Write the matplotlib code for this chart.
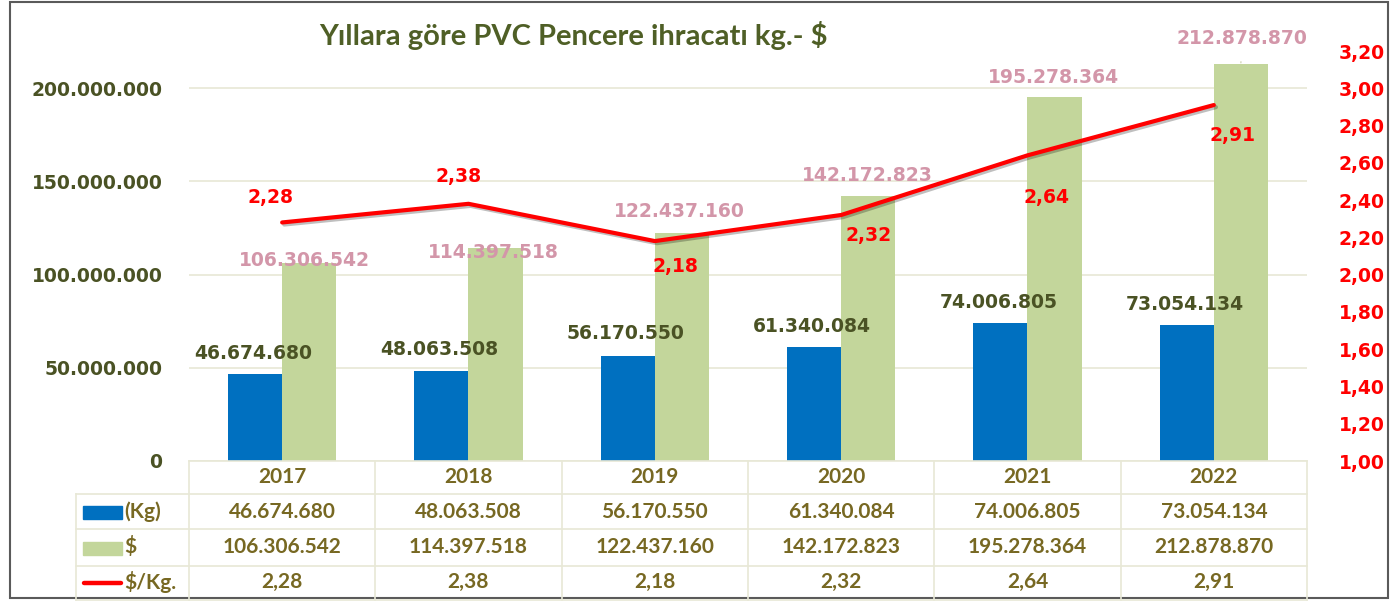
import matplotlib
matplotlib.use('Agg')
import matplotlib.pyplot as plt
import matplotlib.patheffects as pe
from matplotlib.transforms import blended_transform_factory
from matplotlib.patches import Rectangle
from matplotlib.lines import Line2D

# veriler
years = ['2017', '2018', '2019', '2020', '2021', '2022']
kg = [46674680, 48063508, 56170550, 61340084, 74006805, 73054134]
usd = [106306542, 114397518, 122437160, 142172823, 195278364, 212878870]
usd_per_kg = [2.28, 2.38, 2.18, 2.32, 2.64, 2.91]

left_ticks = [0, 50000000, 100000000, 150000000, 200000000]
right_ticks = [1.0, 1.2, 1.4, 1.6, 1.8, 2.0, 2.2, 2.4, 2.6, 2.8, 3.0, 3.2]

# renkler
BLUE = '#0070C0'
GREEN = '#C3D69B'
RED = '#FF0000'
PINK = '#D396A9'
OLIVE = '#4A5224'
TITLE_C = '#4F5F26'
TABLE_C = '#776822'
GRID_C = '#E8E8D6'
LBL = 13.5


def tr_int(v):
    return f'{v:,}'.replace(',', '.')


def tr_dec(v):
    return f'{v:.2f}'.replace('.', ',')


W, H = 1397, 602
fig = plt.figure(figsize=(W / 100, H / 100), dpi=100)


def fx(px):
    return px / W


def fy(py):
    return 1 - py / H


ax = fig.add_axes([fx(189), fy(461), fx(1307) - fx(189), fy(51) - fy(461)])
ax.set_xlim(-0.5, 5.5)
ax.set_ylim(0, 220000000)
for s in ax.spines.values():
    s.set_visible(False)
ax.set_xticks([])
ax.set_yticks(left_ticks)
ax.set_yticklabels([tr_int(t) for t in left_ticks])
ax.tick_params(axis='y', length=0, pad=19, labelsize=LBL, labelcolor=OLIVE)
for lb in ax.get_yticklabels():
    lb.set_fontweight('bold')
ax.yaxis.grid(True, color=GRID_C, lw=1.2)
ax.set_axisbelow(True)

x = list(range(len(years)))
bw = 0.29
xb = [i - bw / 2 for i in x]
xg = [i + bw / 2 for i in x]
bars_kg = ax.bar(xb, kg, width=bw, color=BLUE, zorder=2)
bars_usd = ax.bar(xg, usd, width=bw, color=GREEN, zorder=2)

# etiketler (piksel kaydirma)
kg_off = [(-2, 21), (-2, 22), (-2, 23), (-2, 20), (-2, 21), (-2, 20)]
usd_off = [(-5, 2), (-2, -5), (-2, 21), (-1, 21), (-1, 20), (1, 26)]
for i in x:
    ax.annotate(tr_int(kg[i]), (xb[i], kg[i]), xytext=kg_off[i],
                textcoords='offset pixels', ha='center', va='center',
                fontsize=LBL, fontweight='bold', color=OLIVE, zorder=5)
    ap = None
    if i == len(x) - 1:
        ap = dict(arrowstyle='-', color='#C9CDA8', lw=0.8, shrinkA=8, shrinkB=1)
    ax.annotate(tr_int(usd[i]), (xg[i], usd[i]), xytext=usd_off[i],
                textcoords='offset pixels', ha='center', va='center',
                fontsize=LBL, fontweight='bold', color=PINK, zorder=5,
                arrowprops=ap)

ax2 = ax.twinx()
ax2.set_ylim(1.0, 3.2)
for s in ax2.spines.values():
    s.set_visible(False)
ax2.set_yticks(right_ticks)
ax2.set_yticklabels([tr_dec(t) for t in right_ticks])
ax2.tick_params(axis='y', length=0, pad=23, labelsize=LBL, labelcolor=RED)
for lb in ax2.get_yticklabels():
    lb.set_fontweight('bold')

ax2.plot(x, usd_per_kg, color=RED, lw=3, solid_capstyle='round', zorder=4,
         path_effects=[pe.SimpleLineShadow(offset=(1.5, -1.5), alpha=0.25),
                       pe.Normal()])

red_off = [(-12, 25), (-10, 27), (21, -25), (27, -20), (19, -42), (19, -30)]
for i in x:
    ax2.annotate(tr_dec(usd_per_kg[i]), (x[i], usd_per_kg[i]), xytext=red_off[i],
                 textcoords='offset pixels', ha='center', va='center',
                 fontsize=LBL, fontweight='bold', color=RED, zorder=6)

# baslik
fig.text(fx(573), fy(35), 'Yıllara göre PVC Pencere ihracatı kg.- $',
         ha='center', va='center', fontsize=21, fontweight='bold',
         family='Lato', color=TITLE_C)

# veri tablosu
tb = blended_transform_factory(ax.transData, fig.transFigure)
row_y = [477, 512, 547, 582]
h_lines = [(461, 189), (494, 76), (529, 76), (566, 76), (600, 76)]
for yy, x0 in h_lines:
    fig.add_artist(Line2D([fx(x0), fx(1307)], [fy(yy), fy(yy)], color=GRID_C, lw=1.2))
fig.add_artist(Line2D([fx(76), fx(76)], [fy(494), fy(600)], color=GRID_C, lw=1.2))
for b in [i - 0.5 for i in range(len(years) + 1)]:
    fig.add_artist(Line2D([b, b], [fy(461), fy(600)], transform=tb, color=GRID_C, lw=1.2))

rows = [years,
        [tr_int(v) for v in kg],
        [tr_int(v) for v in usd],
        [tr_dec(v) for v in usd_per_kg]]
for r, vals in enumerate(rows):
    for i in x:
        fig.text(x[i], fy(row_y[r]), vals[i], transform=tb, ha='center', va='center',
                 fontsize=15, fontweight='bold', family='Lato', color=TABLE_C)

# tablo lejandi
fig.add_artist(Rectangle((fx(83), fy(519)), fx(122) - fx(83), fy(506) - fy(519),
                         color=BLUE, transform=fig.transFigure))
fig.add_artist(Rectangle((fx(83), fy(555)), fx(122) - fx(83), fy(542) - fy(555),
                         color=GREEN, transform=fig.transFigure))
fig.add_artist(Line2D([fx(84), fx(121)], [fy(583), fy(583)], color=RED, lw=3.2,
                      solid_capstyle='round'))
for txt, yy in [('(Kg)', 512), ('$', 547), ('$/Kg.', 582)]:
    fig.text(fx(124), fy(yy), txt, ha='left', va='center', fontsize=15,
             fontweight='bold', family='Lato', color=TABLE_C)

# grafik cercevesi
fig.add_artist(Rectangle((fx(10), fy(598)), fx(1388) - fx(10), fy(2) - fy(598),
                         fill=False, edgecolor='#5A5A5A', lw=1.5,
                         transform=fig.transFigure))

fig.savefig('out.png', dpi=100)
